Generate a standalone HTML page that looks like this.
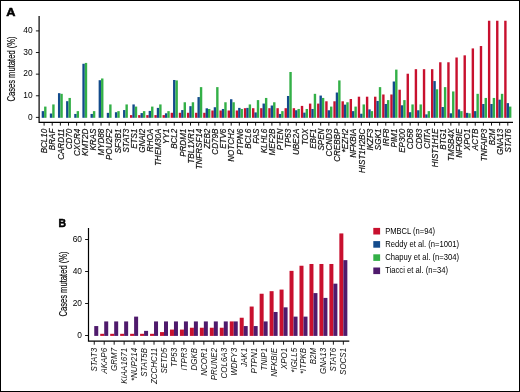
<!DOCTYPE html>
<html lang="en"><head><meta charset="utf-8"><title>Figure</title>
<style>html,body{margin:0;padding:0;background:#fff}body{width:520px;height:392px;overflow:hidden}svg{display:block}text{font-family:"Liberation Sans",sans-serif;fill:#111}.g{font-style:italic;font-size:8.8px;stroke:#111;stroke-width:.18px}.h{font-size:8.3px;stroke:none}.t{font-size:8.4px;fill:#000}.y{font-size:10.8px;fill:#000;stroke:#000;stroke-width:.15px}.p{font-weight:bold;font-size:11.6px;fill:#000;stroke:#000;stroke-width:.55px;stroke-linejoin:round}.l{font-size:8.4px;fill:#000}</style></head><body>
<svg width="520" height="392" viewBox="0 0 520 392">
<rect x="0" y="0" width="520" height="392" fill="#fff"/>
<g>
<rect x="41.70" y="111.13" width="2.40" height="6.67" fill="#134b8c"/>
<rect x="44.10" y="106.59" width="2.40" height="11.21" fill="#33b047"/>
<rect x="49.84" y="113.51" width="2.40" height="4.29" fill="#134b8c"/>
<rect x="52.23" y="104.43" width="2.40" height="13.38" fill="#33b047"/>
<rect x="57.97" y="93.18" width="2.40" height="24.62" fill="#134b8c"/>
<rect x="60.37" y="93.83" width="2.40" height="23.97" fill="#33b047"/>
<rect x="66.10" y="101.18" width="2.40" height="16.62" fill="#134b8c"/>
<rect x="68.50" y="97.94" width="2.40" height="19.86" fill="#33b047"/>
<rect x="74.24" y="113.94" width="2.40" height="3.86" fill="#134b8c"/>
<rect x="76.64" y="111.13" width="2.40" height="6.67" fill="#33b047"/>
<rect x="82.38" y="63.77" width="2.40" height="54.03" fill="#134b8c"/>
<rect x="84.78" y="62.91" width="2.40" height="54.89" fill="#33b047"/>
<rect x="90.51" y="113.94" width="2.40" height="3.86" fill="#134b8c"/>
<rect x="92.91" y="111.13" width="2.40" height="6.67" fill="#33b047"/>
<rect x="98.64" y="80.21" width="2.40" height="37.59" fill="#134b8c"/>
<rect x="101.05" y="78.47" width="2.40" height="39.33" fill="#33b047"/>
<rect x="106.78" y="112.86" width="2.40" height="4.94" fill="#134b8c"/>
<rect x="109.18" y="104.43" width="2.40" height="13.38" fill="#33b047"/>
<rect x="114.91" y="112.21" width="2.40" height="5.59" fill="#134b8c"/>
<rect x="117.31" y="111.13" width="2.40" height="6.67" fill="#33b047"/>
<rect x="123.05" y="110.05" width="2.40" height="7.75" fill="#134b8c"/>
<rect x="125.45" y="104.43" width="2.40" height="13.38" fill="#33b047"/>
<rect x="129.99" y="115.11" width="2.40" height="2.69" fill="#c8102e"/>
<rect x="132.39" y="104.43" width="2.40" height="13.38" fill="#134b8c"/>
<rect x="134.79" y="106.59" width="2.40" height="11.21" fill="#33b047"/>
<rect x="138.12" y="115.11" width="2.40" height="2.69" fill="#c8102e"/>
<rect x="140.52" y="113.08" width="2.40" height="4.73" fill="#134b8c"/>
<rect x="142.92" y="111.13" width="2.40" height="6.67" fill="#33b047"/>
<rect x="146.25" y="115.11" width="2.40" height="2.69" fill="#c8102e"/>
<rect x="148.66" y="110.91" width="2.40" height="6.89" fill="#134b8c"/>
<rect x="151.06" y="106.59" width="2.40" height="11.21" fill="#33b047"/>
<rect x="154.39" y="115.11" width="2.40" height="2.69" fill="#c8102e"/>
<rect x="156.79" y="107.89" width="2.40" height="9.92" fill="#134b8c"/>
<rect x="159.19" y="104.43" width="2.40" height="13.38" fill="#33b047"/>
<rect x="162.53" y="115.11" width="2.40" height="2.69" fill="#c8102e"/>
<rect x="164.93" y="113.29" width="2.40" height="4.51" fill="#134b8c"/>
<rect x="167.33" y="111.13" width="2.40" height="6.67" fill="#33b047"/>
<rect x="170.66" y="112.79" width="2.40" height="5.01" fill="#c8102e"/>
<rect x="173.06" y="79.99" width="2.40" height="37.81" fill="#134b8c"/>
<rect x="175.46" y="80.42" width="2.40" height="37.38" fill="#33b047"/>
<rect x="178.79" y="112.79" width="2.40" height="5.01" fill="#c8102e"/>
<rect x="181.19" y="110.05" width="2.40" height="7.75" fill="#134b8c"/>
<rect x="183.59" y="102.26" width="2.40" height="15.54" fill="#33b047"/>
<rect x="186.93" y="112.79" width="2.40" height="5.01" fill="#c8102e"/>
<rect x="189.33" y="106.16" width="2.40" height="11.65" fill="#134b8c"/>
<rect x="191.73" y="102.26" width="2.40" height="15.54" fill="#33b047"/>
<rect x="195.06" y="112.79" width="2.40" height="5.01" fill="#c8102e"/>
<rect x="197.47" y="97.07" width="2.40" height="20.73" fill="#134b8c"/>
<rect x="199.87" y="87.12" width="2.40" height="30.68" fill="#33b047"/>
<rect x="203.20" y="112.79" width="2.40" height="5.01" fill="#c8102e"/>
<rect x="205.60" y="108.32" width="2.40" height="9.48" fill="#134b8c"/>
<rect x="208.00" y="108.97" width="2.40" height="8.83" fill="#33b047"/>
<rect x="211.34" y="110.50" width="2.40" height="7.30" fill="#c8102e"/>
<rect x="213.74" y="107.24" width="2.40" height="10.56" fill="#134b8c"/>
<rect x="216.14" y="87.12" width="2.40" height="30.68" fill="#33b047"/>
<rect x="219.47" y="110.50" width="2.40" height="7.30" fill="#c8102e"/>
<rect x="221.87" y="108.97" width="2.40" height="8.83" fill="#134b8c"/>
<rect x="224.27" y="102.26" width="2.40" height="15.54" fill="#33b047"/>
<rect x="227.60" y="110.50" width="2.40" height="7.30" fill="#c8102e"/>
<rect x="230.00" y="99.23" width="2.40" height="18.57" fill="#134b8c"/>
<rect x="232.41" y="102.26" width="2.40" height="15.54" fill="#33b047"/>
<rect x="235.74" y="110.50" width="2.40" height="7.30" fill="#c8102e"/>
<rect x="238.14" y="107.89" width="2.40" height="9.92" fill="#134b8c"/>
<rect x="240.54" y="108.97" width="2.40" height="8.83" fill="#33b047"/>
<rect x="243.88" y="108.19" width="2.40" height="9.61" fill="#c8102e"/>
<rect x="246.28" y="107.89" width="2.40" height="9.92" fill="#134b8c"/>
<rect x="248.68" y="104.43" width="2.40" height="13.38" fill="#33b047"/>
<rect x="252.01" y="108.19" width="2.40" height="9.61" fill="#c8102e"/>
<rect x="254.41" y="112.43" width="2.40" height="5.37" fill="#134b8c"/>
<rect x="256.81" y="100.10" width="2.40" height="17.70" fill="#33b047"/>
<rect x="260.14" y="108.19" width="2.40" height="9.61" fill="#c8102e"/>
<rect x="262.54" y="103.56" width="2.40" height="14.24" fill="#134b8c"/>
<rect x="264.94" y="97.94" width="2.40" height="19.86" fill="#33b047"/>
<rect x="268.28" y="108.19" width="2.40" height="9.61" fill="#c8102e"/>
<rect x="270.68" y="105.51" width="2.40" height="12.29" fill="#134b8c"/>
<rect x="273.08" y="102.26" width="2.40" height="15.54" fill="#33b047"/>
<rect x="276.41" y="108.19" width="2.40" height="9.61" fill="#c8102e"/>
<rect x="278.81" y="113.94" width="2.40" height="3.86" fill="#134b8c"/>
<rect x="281.21" y="111.13" width="2.40" height="6.67" fill="#33b047"/>
<rect x="284.55" y="108.19" width="2.40" height="9.61" fill="#c8102e"/>
<rect x="286.95" y="95.99" width="2.40" height="21.81" fill="#134b8c"/>
<rect x="289.35" y="71.99" width="2.40" height="45.81" fill="#33b047"/>
<rect x="292.69" y="108.19" width="2.40" height="9.61" fill="#c8102e"/>
<rect x="295.08" y="110.26" width="2.40" height="7.54" fill="#134b8c"/>
<rect x="297.48" y="108.97" width="2.40" height="8.83" fill="#33b047"/>
<rect x="300.82" y="105.90" width="2.40" height="11.90" fill="#c8102e"/>
<rect x="303.22" y="112.64" width="2.40" height="5.16" fill="#134b8c"/>
<rect x="305.62" y="108.97" width="2.40" height="8.83" fill="#33b047"/>
<rect x="308.95" y="103.60" width="2.40" height="14.20" fill="#c8102e"/>
<rect x="311.35" y="108.97" width="2.40" height="8.83" fill="#134b8c"/>
<rect x="313.75" y="93.83" width="2.40" height="23.97" fill="#33b047"/>
<rect x="317.09" y="103.60" width="2.40" height="14.20" fill="#c8102e"/>
<rect x="319.49" y="95.56" width="2.40" height="22.24" fill="#134b8c"/>
<rect x="321.89" y="97.94" width="2.40" height="19.86" fill="#33b047"/>
<rect x="325.22" y="101.29" width="2.40" height="16.51" fill="#c8102e"/>
<rect x="327.62" y="110.26" width="2.40" height="7.54" fill="#134b8c"/>
<rect x="330.02" y="106.59" width="2.40" height="11.21" fill="#33b047"/>
<rect x="333.36" y="101.29" width="2.40" height="16.51" fill="#c8102e"/>
<rect x="335.76" y="92.53" width="2.40" height="25.27" fill="#134b8c"/>
<rect x="338.16" y="80.42" width="2.40" height="37.38" fill="#33b047"/>
<rect x="341.50" y="101.29" width="2.40" height="16.51" fill="#c8102e"/>
<rect x="343.89" y="104.64" width="2.40" height="13.16" fill="#134b8c"/>
<rect x="346.29" y="102.26" width="2.40" height="15.54" fill="#33b047"/>
<rect x="349.63" y="99.02" width="2.40" height="18.78" fill="#c8102e"/>
<rect x="352.03" y="111.13" width="2.40" height="6.67" fill="#134b8c"/>
<rect x="354.43" y="106.59" width="2.40" height="11.21" fill="#33b047"/>
<rect x="357.76" y="96.70" width="2.40" height="21.10" fill="#c8102e"/>
<rect x="360.16" y="113.72" width="2.40" height="4.08" fill="#134b8c"/>
<rect x="362.56" y="104.43" width="2.40" height="13.38" fill="#33b047"/>
<rect x="365.90" y="96.70" width="2.40" height="21.10" fill="#c8102e"/>
<rect x="368.30" y="109.40" width="2.40" height="8.40" fill="#134b8c"/>
<rect x="370.70" y="111.13" width="2.40" height="6.67" fill="#33b047"/>
<rect x="374.03" y="96.70" width="2.40" height="21.10" fill="#c8102e"/>
<rect x="376.43" y="100.97" width="2.40" height="16.83" fill="#134b8c"/>
<rect x="378.83" y="87.12" width="2.40" height="30.68" fill="#33b047"/>
<rect x="382.17" y="94.48" width="2.40" height="23.32" fill="#c8102e"/>
<rect x="384.57" y="103.99" width="2.40" height="13.81" fill="#134b8c"/>
<rect x="386.97" y="100.10" width="2.40" height="17.70" fill="#33b047"/>
<rect x="390.31" y="94.48" width="2.40" height="23.32" fill="#c8102e"/>
<rect x="392.70" y="81.50" width="2.40" height="36.30" fill="#134b8c"/>
<rect x="395.10" y="69.61" width="2.40" height="48.19" fill="#33b047"/>
<rect x="398.44" y="89.72" width="2.40" height="28.08" fill="#c8102e"/>
<rect x="400.84" y="105.29" width="2.40" height="12.51" fill="#134b8c"/>
<rect x="403.24" y="100.10" width="2.40" height="17.70" fill="#33b047"/>
<rect x="406.57" y="73.72" width="2.40" height="44.08" fill="#c8102e"/>
<rect x="408.97" y="112.21" width="2.40" height="5.59" fill="#134b8c"/>
<rect x="411.37" y="104.43" width="2.40" height="13.38" fill="#33b047"/>
<rect x="414.71" y="69.18" width="2.40" height="48.62" fill="#c8102e"/>
<rect x="417.11" y="110.26" width="2.40" height="7.54" fill="#134b8c"/>
<rect x="419.51" y="104.43" width="2.40" height="13.38" fill="#33b047"/>
<rect x="422.84" y="69.18" width="2.40" height="48.62" fill="#c8102e"/>
<rect x="425.24" y="114.37" width="2.40" height="3.43" fill="#134b8c"/>
<rect x="427.64" y="111.13" width="2.40" height="6.67" fill="#33b047"/>
<rect x="430.98" y="69.18" width="2.40" height="48.62" fill="#c8102e"/>
<rect x="433.38" y="81.07" width="2.40" height="36.73" fill="#134b8c"/>
<rect x="435.78" y="89.29" width="2.40" height="28.51" fill="#33b047"/>
<rect x="439.12" y="62.26" width="2.40" height="55.54" fill="#c8102e"/>
<rect x="441.51" y="107.02" width="2.40" height="10.78" fill="#134b8c"/>
<rect x="443.91" y="87.12" width="2.40" height="30.68" fill="#33b047"/>
<rect x="447.25" y="62.26" width="2.40" height="55.54" fill="#c8102e"/>
<rect x="449.65" y="113.29" width="2.40" height="4.51" fill="#134b8c"/>
<rect x="452.05" y="91.45" width="2.40" height="26.35" fill="#33b047"/>
<rect x="455.38" y="57.50" width="2.40" height="60.30" fill="#c8102e"/>
<rect x="457.78" y="109.40" width="2.40" height="8.40" fill="#134b8c"/>
<rect x="460.18" y="111.13" width="2.40" height="6.67" fill="#33b047"/>
<rect x="463.52" y="55.34" width="2.40" height="62.46" fill="#c8102e"/>
<rect x="465.92" y="112.86" width="2.40" height="4.94" fill="#134b8c"/>
<rect x="468.32" y="113.29" width="2.40" height="4.51" fill="#33b047"/>
<rect x="471.65" y="48.42" width="2.40" height="69.38" fill="#c8102e"/>
<rect x="474.05" y="111.13" width="2.40" height="6.67" fill="#134b8c"/>
<rect x="476.45" y="93.83" width="2.40" height="23.97" fill="#33b047"/>
<rect x="479.79" y="46.04" width="2.40" height="71.76" fill="#c8102e"/>
<rect x="482.19" y="103.99" width="2.40" height="13.81" fill="#134b8c"/>
<rect x="484.59" y="97.94" width="2.40" height="19.86" fill="#33b047"/>
<rect x="487.93" y="20.74" width="2.40" height="97.06" fill="#c8102e"/>
<rect x="490.32" y="103.99" width="2.40" height="13.81" fill="#134b8c"/>
<rect x="492.72" y="97.94" width="2.40" height="19.86" fill="#33b047"/>
<rect x="496.06" y="20.74" width="2.40" height="97.06" fill="#c8102e"/>
<rect x="498.46" y="99.67" width="2.40" height="18.13" fill="#134b8c"/>
<rect x="500.86" y="93.83" width="2.40" height="23.97" fill="#33b047"/>
<rect x="504.19" y="20.74" width="2.40" height="97.06" fill="#c8102e"/>
<rect x="506.59" y="103.13" width="2.40" height="14.67" fill="#134b8c"/>
<rect x="508.99" y="106.59" width="2.40" height="11.21" fill="#33b047"/>
</g>
<g stroke="#000" stroke-width="1.2" fill="none">
<path d="M39.10 15.90 V122.35 H513.00"/>
<path stroke-width="0.9" d="M35.90 117.40H39.10M35.90 95.78H39.10M35.90 74.15H39.10M35.90 52.53H39.10M35.90 30.90H39.10M44.10 122.35V125.65M52.23 122.35V125.65M60.37 122.35V125.65M68.50 122.35V125.65M76.64 122.35V125.65M84.78 122.35V125.65M92.91 122.35V125.65M101.05 122.35V125.65M109.18 122.35V125.65M117.31 122.35V125.65M125.45 122.35V125.65M133.59 122.35V125.65M141.72 122.35V125.65M149.85 122.35V125.65M157.99 122.35V125.65M166.12 122.35V125.65M174.26 122.35V125.65M182.39 122.35V125.65M190.53 122.35V125.65M198.66 122.35V125.65M206.80 122.35V125.65M214.94 122.35V125.65M223.07 122.35V125.65M231.20 122.35V125.65M239.34 122.35V125.65M247.47 122.35V125.65M255.61 122.35V125.65M263.75 122.35V125.65M271.88 122.35V125.65M280.01 122.35V125.65M288.15 122.35V125.65M296.29 122.35V125.65M304.42 122.35V125.65M312.56 122.35V125.65M320.69 122.35V125.65M328.82 122.35V125.65M336.96 122.35V125.65M345.10 122.35V125.65M353.23 122.35V125.65M361.37 122.35V125.65M369.50 122.35V125.65M377.63 122.35V125.65M385.77 122.35V125.65M393.91 122.35V125.65M402.04 122.35V125.65M410.18 122.35V125.65M418.31 122.35V125.65M426.44 122.35V125.65M434.58 122.35V125.65M442.72 122.35V125.65M450.85 122.35V125.65M458.99 122.35V125.65M467.12 122.35V125.65M475.25 122.35V125.65M483.39 122.35V125.65M491.53 122.35V125.65M499.66 122.35V125.65M507.80 122.35V125.65"/>
</g>
<text class="t" x="32.60" y="119.70" text-anchor="end">0</text>
<text class="t" x="32.60" y="98.08" text-anchor="end">10</text>
<text class="t" x="32.60" y="76.45" text-anchor="end">20</text>
<text class="t" x="32.60" y="54.83" text-anchor="end">30</text>
<text class="t" x="32.60" y="33.20" text-anchor="end">40</text>
<text class="g" text-anchor="end" transform="translate(47.30 128.70) rotate(-90) scale(0.915 1)">BCL10</text>
<text class="g" text-anchor="end" transform="translate(55.44 128.70) rotate(-90) scale(0.915 1)">BRAF</text>
<text class="g" text-anchor="end" transform="translate(63.57 128.70) rotate(-90) scale(0.915 1)">CARD11</text>
<text class="g" text-anchor="end" transform="translate(71.70 128.70) rotate(-90) scale(0.915 1)">CD70</text>
<text class="g" text-anchor="end" transform="translate(79.84 128.70) rotate(-90) scale(0.915 1)">CXCR4</text>
<text class="g" text-anchor="end" transform="translate(87.98 128.70) rotate(-90) scale(0.915 1)">KMT2D</text>
<text class="g" text-anchor="end" transform="translate(96.11 128.70) rotate(-90) scale(0.915 1)">KRAS</text>
<text class="g" text-anchor="end" transform="translate(104.25 128.70) rotate(-90) scale(0.915 1)">MYD88</text>
<text class="g" text-anchor="end" transform="translate(112.38 128.70) rotate(-90) scale(0.915 1)">POU2F2</text>
<text class="g" text-anchor="end" transform="translate(120.52 128.70) rotate(-90) scale(0.915 1)">SF3B1</text>
<text class="g" text-anchor="end" transform="translate(128.65 128.70) rotate(-90) scale(0.915 1)">STAT3</text>
<text class="g" text-anchor="end" transform="translate(136.78 128.70) rotate(-90) scale(0.915 1)">ETS1</text>
<text class="g" text-anchor="end" transform="translate(144.92 128.70) rotate(-90) scale(0.915 1)">GNAI2</text>
<text class="g" text-anchor="end" transform="translate(153.05 128.70) rotate(-90) scale(0.915 1)">RHOA</text>
<text class="g" text-anchor="end" transform="translate(161.19 128.70) rotate(-90) scale(0.915 1)">THEM30A</text>
<text class="g" text-anchor="end" transform="translate(169.32 128.70) rotate(-90) scale(0.915 1)">YY1</text>
<text class="g" text-anchor="end" transform="translate(177.46 128.70) rotate(-90) scale(0.915 1)">BCL2</text>
<text class="g" text-anchor="end" transform="translate(185.59 128.70) rotate(-90) scale(0.915 1)">PRDM1</text>
<text class="g" text-anchor="end" transform="translate(193.73 128.70) rotate(-90) scale(0.915 1)">TBL1XR1</text>
<text class="g" text-anchor="end" transform="translate(201.86 128.70) rotate(-90) scale(0.915 1)">TNFRSF14</text>
<text class="g" text-anchor="end" transform="translate(210.00 128.70) rotate(-90) scale(0.915 1)">ZEB2</text>
<text class="g" text-anchor="end" transform="translate(218.13 128.70) rotate(-90) scale(0.915 1)">CD79B</text>
<text class="g" text-anchor="end" transform="translate(226.27 128.70) rotate(-90) scale(0.915 1)">ETV6</text>
<text class="g" text-anchor="end" transform="translate(234.40 128.70) rotate(-90) scale(0.915 1)">NOTCH2</text>
<text class="g" text-anchor="end" transform="translate(242.54 128.70) rotate(-90) scale(0.915 1)">PTPN6</text>
<text class="g" text-anchor="end" transform="translate(250.67 128.70) rotate(-90) scale(0.915 1)">BCL6</text>
<text class="g" text-anchor="end" transform="translate(258.81 128.70) rotate(-90) scale(0.915 1)">FAS</text>
<text class="g" text-anchor="end" transform="translate(266.94 128.70) rotate(-90) scale(0.915 1)">KLHL6</text>
<text class="g" text-anchor="end" transform="translate(275.08 128.70) rotate(-90) scale(0.915 1)">MEF2B</text>
<text class="g" text-anchor="end" transform="translate(283.21 128.70) rotate(-90) scale(0.915 1)">PTEN</text>
<text class="g" text-anchor="end" transform="translate(291.35 128.70) rotate(-90) scale(0.915 1)">TP53</text>
<text class="g" text-anchor="end" transform="translate(299.49 128.70) rotate(-90) scale(0.915 1)">UBE2A</text>
<text class="g" text-anchor="end" transform="translate(307.62 128.70) rotate(-90) scale(0.915 1)">TOX</text>
<text class="g" text-anchor="end" transform="translate(315.75 128.70) rotate(-90) scale(0.915 1)">EBF1</text>
<text class="g" text-anchor="end" transform="translate(323.89 128.70) rotate(-90) scale(0.915 1)">SPEN</text>
<text class="g" text-anchor="end" transform="translate(332.02 128.70) rotate(-90) scale(0.915 1)">CCND3</text>
<text class="g" text-anchor="end" transform="translate(340.16 128.70) rotate(-90) scale(0.915 1)">CREBBP</text>
<text class="g" text-anchor="end" transform="translate(348.30 128.70) rotate(-90) scale(0.915 1)">*EZH2</text>
<text class="g" text-anchor="end" transform="translate(356.43 128.70) rotate(-90) scale(0.915 1)">NFKBIA</text>
<text class="g" text-anchor="end" transform="translate(364.56 128.70) rotate(-90) scale(0.915 1)">HIST1H2BC</text>
<text class="g" text-anchor="end" transform="translate(372.70 128.70) rotate(-90) scale(0.915 1)">IKZF3</text>
<text class="g" text-anchor="end" transform="translate(380.83 128.70) rotate(-90) scale(0.915 1)">SGK1</text>
<text class="g" text-anchor="end" transform="translate(388.97 128.70) rotate(-90) scale(0.915 1)">IRF8</text>
<text class="g" text-anchor="end" transform="translate(397.11 128.70) rotate(-90) scale(0.915 1)">PIM1</text>
<text class="g" text-anchor="end" transform="translate(405.24 128.70) rotate(-90) scale(0.915 1)">EP300</text>
<text class="g" text-anchor="end" transform="translate(413.38 128.70) rotate(-90) scale(0.915 1)">CD58</text>
<text class="g" text-anchor="end" transform="translate(421.51 128.70) rotate(-90) scale(0.915 1)">CD83</text>
<text class="g" text-anchor="end" transform="translate(429.64 128.70) rotate(-90) scale(0.915 1)">CIITA</text>
<text class="g" text-anchor="end" transform="translate(437.78 128.70) rotate(-90) scale(0.915 1)">HIST1H1E</text>
<text class="g" text-anchor="end" transform="translate(445.92 128.70) rotate(-90) scale(0.915 1)">BTG1</text>
<text class="g" text-anchor="end" transform="translate(454.05 128.70) rotate(-90) scale(0.915 1)">TMSB4X</text>
<text class="g" text-anchor="end" transform="translate(462.19 128.70) rotate(-90) scale(0.915 1)">NFKBIE</text>
<text class="g" text-anchor="end" transform="translate(470.32 128.70) rotate(-90) scale(0.915 1)">XPO1</text>
<text class="g" text-anchor="end" transform="translate(478.45 128.70) rotate(-90) scale(0.915 1)">ACTB</text>
<text class="g" text-anchor="end" transform="translate(486.59 128.70) rotate(-90) scale(0.915 1)">TNFAIP3</text>
<text class="g" text-anchor="end" transform="translate(494.73 128.70) rotate(-90) scale(0.915 1)">B2M</text>
<text class="g" text-anchor="end" transform="translate(502.86 128.70) rotate(-90) scale(0.915 1)">GNA13</text>
<text class="g" text-anchor="end" transform="translate(511.00 128.70) rotate(-90) scale(0.915 1)">STAT6</text>
<text class="y" text-anchor="middle" textLength="65.2" lengthAdjust="spacingAndGlyphs" transform="translate(14.90 69.00) rotate(-90)">Cases mutated (%)</text>
<text class="p" transform="translate(6.3 15.9) scale(1.1 1)">A</text>
<g>
<rect x="94.25" y="326.06" width="4.00" height="9.84" fill="#4f1a6c"/>
<rect x="100.21" y="333.80" width="4.00" height="2.10" fill="#c8102e"/>
<rect x="104.21" y="321.42" width="4.00" height="14.48" fill="#4f1a6c"/>
<rect x="110.18" y="333.80" width="4.00" height="2.10" fill="#c8102e"/>
<rect x="114.18" y="321.42" width="4.00" height="14.48" fill="#4f1a6c"/>
<rect x="120.14" y="333.80" width="4.00" height="2.10" fill="#c8102e"/>
<rect x="124.14" y="321.42" width="4.00" height="14.48" fill="#4f1a6c"/>
<rect x="130.11" y="333.80" width="4.00" height="2.10" fill="#c8102e"/>
<rect x="134.11" y="316.62" width="4.00" height="19.28" fill="#4f1a6c"/>
<rect x="140.07" y="333.80" width="4.00" height="2.10" fill="#c8102e"/>
<rect x="144.07" y="330.86" width="4.00" height="5.04" fill="#4f1a6c"/>
<rect x="150.03" y="333.80" width="4.00" height="2.10" fill="#c8102e"/>
<rect x="154.03" y="321.42" width="4.00" height="14.48" fill="#4f1a6c"/>
<rect x="160.00" y="332.09" width="4.00" height="3.81" fill="#c8102e"/>
<rect x="164.00" y="321.42" width="4.00" height="14.48" fill="#4f1a6c"/>
<rect x="169.96" y="329.58" width="4.00" height="6.32" fill="#c8102e"/>
<rect x="173.96" y="321.42" width="4.00" height="14.48" fill="#4f1a6c"/>
<rect x="179.93" y="329.58" width="4.00" height="6.32" fill="#c8102e"/>
<rect x="183.93" y="321.42" width="4.00" height="14.48" fill="#4f1a6c"/>
<rect x="189.89" y="327.74" width="4.00" height="8.16" fill="#c8102e"/>
<rect x="193.89" y="321.42" width="4.00" height="14.48" fill="#4f1a6c"/>
<rect x="199.85" y="327.74" width="4.00" height="8.16" fill="#c8102e"/>
<rect x="203.85" y="321.42" width="4.00" height="14.48" fill="#4f1a6c"/>
<rect x="209.82" y="327.74" width="4.00" height="8.16" fill="#c8102e"/>
<rect x="213.82" y="321.42" width="4.00" height="14.48" fill="#4f1a6c"/>
<rect x="219.78" y="327.74" width="4.00" height="8.16" fill="#c8102e"/>
<rect x="223.78" y="321.42" width="4.00" height="14.48" fill="#4f1a6c"/>
<rect x="229.75" y="321.42" width="4.00" height="14.48" fill="#c8102e"/>
<rect x="233.75" y="321.42" width="4.00" height="14.48" fill="#4f1a6c"/>
<rect x="239.71" y="317.74" width="4.00" height="18.16" fill="#c8102e"/>
<rect x="243.71" y="326.06" width="4.00" height="9.84" fill="#4f1a6c"/>
<rect x="249.67" y="306.54" width="4.00" height="29.36" fill="#c8102e"/>
<rect x="253.67" y="326.06" width="4.00" height="9.84" fill="#4f1a6c"/>
<rect x="259.64" y="293.74" width="4.00" height="42.16" fill="#c8102e"/>
<rect x="263.64" y="321.42" width="4.00" height="14.48" fill="#4f1a6c"/>
<rect x="269.60" y="291.18" width="4.00" height="44.72" fill="#c8102e"/>
<rect x="273.60" y="311.98" width="4.00" height="23.92" fill="#4f1a6c"/>
<rect x="279.57" y="289.58" width="4.00" height="46.32" fill="#c8102e"/>
<rect x="283.57" y="307.34" width="4.00" height="28.56" fill="#4f1a6c"/>
<rect x="289.53" y="270.86" width="4.00" height="65.04" fill="#c8102e"/>
<rect x="293.53" y="316.62" width="4.00" height="19.28" fill="#4f1a6c"/>
<rect x="299.49" y="265.74" width="4.00" height="70.16" fill="#c8102e"/>
<rect x="303.49" y="316.62" width="4.00" height="19.28" fill="#4f1a6c"/>
<rect x="309.46" y="263.98" width="4.00" height="71.92" fill="#c8102e"/>
<rect x="313.46" y="293.10" width="4.00" height="42.80" fill="#4f1a6c"/>
<rect x="319.42" y="263.98" width="4.00" height="71.92" fill="#c8102e"/>
<rect x="323.42" y="297.90" width="4.00" height="38.00" fill="#4f1a6c"/>
<rect x="329.39" y="263.98" width="4.00" height="71.92" fill="#c8102e"/>
<rect x="333.39" y="283.66" width="4.00" height="52.24" fill="#4f1a6c"/>
<rect x="339.35" y="233.42" width="4.00" height="102.48" fill="#c8102e"/>
<rect x="343.35" y="260.14" width="4.00" height="75.76" fill="#4f1a6c"/>
</g>
<g stroke="#000" stroke-width="1.2" fill="none">
<path d="M88.50 228.00 V341.20 H349.30"/>
<path stroke-width="0.9" d="M85.10 335.50H88.50M85.10 303.50H88.50M85.10 271.50H88.50M85.10 239.50H88.50M94.25 341.20V344.70M104.21 341.20V344.70M114.18 341.20V344.70M124.14 341.20V344.70M134.11 341.20V344.70M144.07 341.20V344.70M154.03 341.20V344.70M164.00 341.20V344.70M173.96 341.20V344.70M183.93 341.20V344.70M193.89 341.20V344.70M203.85 341.20V344.70M213.82 341.20V344.70M223.78 341.20V344.70M233.75 341.20V344.70M243.71 341.20V344.70M253.67 341.20V344.70M263.64 341.20V344.70M273.60 341.20V344.70M283.57 341.20V344.70M293.53 341.20V344.70M303.49 341.20V344.70M313.46 341.20V344.70M323.42 341.20V344.70M333.39 341.20V344.70M343.35 341.20V344.70"/>
</g>
<text class="t" x="82.00" y="337.80" text-anchor="end">0</text>
<text class="t" x="82.00" y="305.80" text-anchor="end">20</text>
<text class="t" x="82.00" y="273.80" text-anchor="end">40</text>
<text class="t" x="82.00" y="241.80" text-anchor="end">60</text>
<text class="g h" text-anchor="end" transform="translate(97.25 347.90) rotate(-90) scale(0.96 1)">STAT3</text>
<text class="g h" text-anchor="end" transform="translate(107.21 347.90) rotate(-90) scale(0.96 1)">AKAP6</text>
<text class="g h" text-anchor="end" transform="translate(117.18 347.90) rotate(-90) scale(0.96 1)">GRM7</text>
<text class="g h" text-anchor="end" transform="translate(127.14 347.90) rotate(-90) scale(0.96 1)">KIAA1671</text>
<text class="g h" text-anchor="end" transform="translate(137.11 347.90) rotate(-90) scale(0.96 1)">*NUP214</text>
<text class="g h" text-anchor="end" transform="translate(147.07 347.90) rotate(-90) scale(0.96 1)">STAT5B</text>
<text class="g h" text-anchor="end" transform="translate(157.03 347.90) rotate(-90) scale(0.96 1)">ZCCHC11</text>
<text class="g h" text-anchor="end" transform="translate(167.00 347.90) rotate(-90) scale(0.96 1)">SETD5</text>
<text class="g h" text-anchor="end" transform="translate(176.96 347.90) rotate(-90) scale(0.96 1)">TP53</text>
<text class="g h" text-anchor="end" transform="translate(186.93 347.90) rotate(-90) scale(0.96 1)">ITPR3</text>
<text class="g h" text-anchor="end" transform="translate(196.89 347.90) rotate(-90) scale(0.96 1)">DGKB</text>
<text class="g h" text-anchor="end" transform="translate(206.85 347.90) rotate(-90) scale(0.96 1)">NCOR1</text>
<text class="g h" text-anchor="end" transform="translate(216.82 347.90) rotate(-90) scale(0.96 1)">PRUNE2</text>
<text class="g h" text-anchor="end" transform="translate(226.78 347.90) rotate(-90) scale(0.96 1)">COL6A3</text>
<text class="g h" text-anchor="end" transform="translate(236.75 347.90) rotate(-90) scale(0.96 1)">WDFY3</text>
<text class="g h" text-anchor="end" transform="translate(246.71 347.90) rotate(-90) scale(0.96 1)">JAK1</text>
<text class="g h" text-anchor="end" transform="translate(256.67 347.90) rotate(-90) scale(0.96 1)">PTPN1</text>
<text class="g h" text-anchor="end" transform="translate(266.64 347.90) rotate(-90) scale(0.96 1)">TNIP1</text>
<text class="g h" text-anchor="end" transform="translate(276.60 347.90) rotate(-90) scale(0.96 1)">NFKBIE</text>
<text class="g h" text-anchor="end" transform="translate(286.57 347.90) rotate(-90) scale(0.96 1)">XPO1</text>
<text class="g h" text-anchor="end" transform="translate(296.53 347.90) rotate(-90) scale(0.96 1)">*IGLL5</text>
<text class="g h" text-anchor="end" transform="translate(306.49 347.90) rotate(-90) scale(0.96 1)">*ITPKB</text>
<text class="g h" text-anchor="end" transform="translate(316.46 347.90) rotate(-90) scale(0.96 1)">B2M</text>
<text class="g h" text-anchor="end" transform="translate(326.42 347.90) rotate(-90) scale(0.96 1)">GNA13</text>
<text class="g h" text-anchor="end" transform="translate(336.39 347.90) rotate(-90) scale(0.96 1)">STAT6</text>
<text class="g h" text-anchor="end" transform="translate(346.35 347.90) rotate(-90) scale(0.96 1)">SOCS1</text>
<text class="y" text-anchor="middle" textLength="65.2" lengthAdjust="spacingAndGlyphs" transform="translate(67.20 284.00) rotate(-90)">Cases mutated (%)</text>
<text class="p" transform="translate(58.6 227.3) scale(0.9 1)">B</text>
<rect x="373.3" y="227.90" width="6.8" height="6.6" fill="#c8102e"/>
<text class="l" x="385.2" y="233.55" textLength="49.9" lengthAdjust="spacingAndGlyphs">PMBCL (n=94)</text>
<rect x="373.3" y="241.10" width="6.8" height="6.6" fill="#134b8c"/>
<text class="l" x="385.2" y="246.75" textLength="73.8" lengthAdjust="spacingAndGlyphs">Reddy et al. (n=1001)</text>
<rect x="373.3" y="254.30" width="6.8" height="6.6" fill="#33b047"/>
<text class="l" x="385.2" y="259.95" textLength="73.8" lengthAdjust="spacingAndGlyphs">Chapuy et al. (n=304)</text>
<rect x="373.3" y="267.50" width="6.8" height="6.6" fill="#4f1a6c"/>
<text class="l" x="385.2" y="273.15" textLength="62.8" lengthAdjust="spacingAndGlyphs">Tiacci et al. (n=34)</text>
<rect x="0.5" y="0.5" width="519" height="391" fill="none" stroke="#000" stroke-width="1"/>
</svg></body></html>
